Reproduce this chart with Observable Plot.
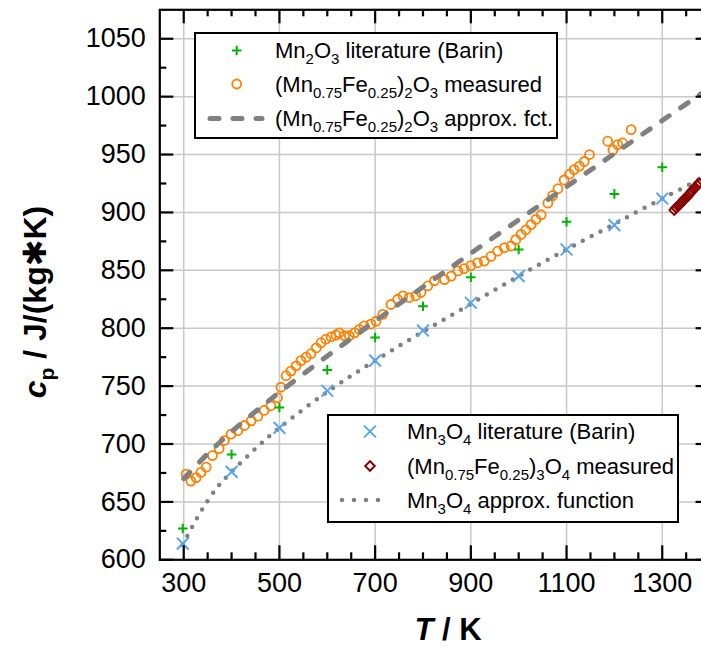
<!DOCTYPE html>
<html><head><meta charset="utf-8">
<script src="https://cdn.jsdelivr.net/npm/d3@7"></script>
<script src="https://cdn.jsdelivr.net/npm/@observablehq/plot@0.6"></script>
<style>
body{margin:0;background:#fff;}
#chart{width:701px;height:648px;overflow:hidden;position:relative;}
</style>
</head><body><div id="chart"></div>
<script>
// ---- data ----
const barinT = [298, 400, 500, 600, 700, 800, 900, 1000, 1100, 1200, 1300];
const mn2o3Barin = [627, 691, 731.5, 764, 792, 819, 844, 868, 892, 916, 939];
const mn3o4Barin = [614, 676, 714, 746, 772, 798, 822, 845, 868, 889, 912];

const measT = [305, 315, 326, 336, 347, 360, 374, 385, 399, 413, 427, 441, 455, 468, 482, 496, 503, 514, 524, 535, 545, 556, 566, 577, 587, 597, 608, 618, 625, 636, 646, 657, 667, 677, 691, 702, 716, 733, 747, 758, 771, 785, 796, 810, 824, 845, 859, 873, 886, 900, 914, 928, 942, 956, 970, 984, 994, 1005, 1015, 1026, 1036, 1047, 1061, 1071, 1082, 1095, 1106, 1116, 1127, 1137, 1148, 1186, 1197, 1207, 1217, 1235];
const measCp = [674, 668, 671, 675.5, 680, 690, 696, 703, 708.5, 711.5, 716, 720, 724, 729, 733, 740, 749, 759, 763, 767.5, 772, 775, 778, 783, 787.5, 790.5, 792.5, 794, 796, 793.5, 793.5, 796, 799, 802, 803.5, 806, 812, 820.5, 825, 828, 826.5, 828, 831, 836.5, 841, 842, 845, 849.5, 851.5, 854, 856.5, 858, 862, 866.5, 869.5, 871, 876.5, 881, 885, 889.5, 894, 898, 908, 914.5, 920.5, 928, 933, 937, 940, 944, 950, 961.5, 954, 958.5, 960, 971.5];

const spinelT = [1325, 1329, 1333, 1337, 1341, 1345, 1349, 1353, 1357, 1361, 1365, 1369, 1373, 1377];
const spinelCp = [902, 904, 905.5, 907, 909, 911, 912.5, 914, 916, 918, 920, 921.5, 923.5, 925.5];

const approx2T = [300, 350, 400, 450, 500, 600, 700, 800, 900, 1000, 1100, 1200, 1300, 1400];
const approx2Cp = [670, 691.6, 710.6, 728.1, 744.6, 776, 806.1, 835.6, 864.7, 893.6, 922.3, 950.8, 979.4, 1007.8];

const approx3T = [298, 325, 350, 375, 400, 450, 500, 600, 700, 800, 900, 1000, 1100, 1200, 1300, 1400];
const approx3Cp = [613, 634, 651, 665, 676, 696, 714, 745, 772, 797, 821, 845, 868, 890, 912, 933];

const xMajor = [300, 500, 700, 900, 1100, 1300];
const xMinor = [350, 400, 450, 550, 600, 650, 750, 800, 850, 950, 1000, 1050, 1150, 1200, 1250, 1350];
const yMajor = [600, 650, 700, 750, 800, 850, 900, 950, 1000, 1050];
const yMinor = [625, 675, 725, 775, 825, 875, 925, 975, 1025];

const cOrange = "#ff8000", cGreen = "#00b400", cBlue = "#55a5f0", cRed = "#8b0000", cGray = "#808080";

const zip = (xs, ys) => xs.map((x, i) => ({x, y: ys[i]}));

const ML = 159.3, MT = 9.3, MB = 88.7, MR = -8.6, W = 701, H = 648;
const FW = W - ML - MR, FH = H - MT - MB;
const majL = 14, minL = 7;

const sym = {
  plus: {r: 3.2, sw: 2},
  times: {r: 5.4, sw: 2},
  circle: {r: 4.5, sw: 1.8},
  diamond2: {r: 4.3, sw: 2}
};

const tickStyle = {stroke: "black", strokeWidth: 2.2};

const plot = Plot.plot({
  width: W, height: H,
  marginLeft: ML, marginRight: MR, marginTop: MT, marginBottom: MB,
  style: {fontFamily: "'Liberation Sans', Arial, sans-serif", fontSize: "27px", background: "white", color: "black"},
  x: {domain: [250, 1400]},
  y: {domain: [600, 1075]},
  marks: [
    Plot.gridX(xMajor, {stroke: "#c8c8c8", strokeOpacity: 1, strokeWidth: 1.5}),
    Plot.gridY(yMajor, {stroke: "#c8c8c8", strokeOpacity: 1, strokeWidth: 1.5}),
    Plot.dot(zip(measT, measCp), {x: "x", y: "y", symbol: "circle", r: sym.circle.r, stroke: cOrange, strokeWidth: sym.circle.sw, fill: "none"}),
    Plot.line(zip(approx2T, approx2Cp), {x: "x", y: "y", curve: "catmull-rom", stroke: cGray, strokeWidth: 5, strokeDasharray: "9,14", strokeLinecap: "round"}),
    Plot.line(zip(approx3T, approx3Cp), {x: "x", y: "y", curve: "catmull-rom", stroke: cGray, strokeWidth: 4.5, strokeDasharray: "0,10", strokeLinecap: "round"}),
    Plot.dot(zip(barinT, mn2o3Barin), {x: "x", y: "y", symbol: "plus", r: sym.plus.r, stroke: cGreen, strokeWidth: sym.plus.sw}),
    Plot.dot(zip(barinT, mn3o4Barin), {x: "x", y: "y", symbol: "times", r: sym.times.r, stroke: cBlue, strokeWidth: sym.times.sw}),
    Plot.dot(zip(spinelT, spinelCp), {x: "x", y: "y", symbol: "diamond2", r: sym.diamond2.r, stroke: cRed, strokeWidth: sym.diamond2.sw, fill: "none"}),
    Plot.axisX({ticks: xMajor, tickSize: 0, tickPadding: 13, label: null, tickFormat: d => String(d)}),
    Plot.axisY({ticks: yMajor, tickSize: 0, tickPadding: 14, label: null, tickFormat: d => String(d)}),
    // inward ticks: bottom, top, left, right
    Plot.tickX(xMajor, {x: d => d, insetTop: FH - majL, ...tickStyle}),
    Plot.tickX(xMinor, {x: d => d, insetTop: FH - minL, ...tickStyle}),
    Plot.tickX(xMajor, {x: d => d, insetBottom: FH - majL, ...tickStyle}),
    Plot.tickX(xMinor, {x: d => d, insetBottom: FH - minL, ...tickStyle}),
    Plot.tickY(yMajor, {y: d => d, insetRight: FW - majL, ...tickStyle}),
    Plot.tickY(yMinor, {y: d => d, insetRight: FW - minL, ...tickStyle}),
    Plot.tickY(yMajor, {y: d => d, insetLeft: FW - majL, ...tickStyle}),
    Plot.tickY(yMinor, {y: d => d, insetLeft: FW - minL, ...tickStyle}),
    Plot.frame({stroke: "black", strokeWidth: 2.2})
  ]
});

const svg = d3.select(plot);
const FONT = "'Liberation Sans', Arial, sans-serif";

function richText(g, x, y, parts, size) {
  const t = g.append("text").attr("x", x).attr("y", y).attr("text-anchor", "start")
    .attr("font-family", FONT).attr("font-size", size).attr("fill", "black");
  let shifted = 0;
  for (const [s, kind] of parts) {
    const ts = t.append("tspan").text(s);
    if (kind === "sub") {
      ts.attr("font-size", Math.round(size * 0.66)).attr("dy", 6 - shifted);
      shifted = 6;
    } else {
      if (shifted) ts.attr("dy", -shifted);
      shifted = 0;
    }
  }
  return t;
}

function symbolPath(type, r) {
  const map = {plus: d3.symbolPlus, times: d3.symbolTimes, circle: d3.symbolCircle, diamond2: d3.symbolDiamond2};
  return d3.symbol(map[type], Math.PI * r * r)();
}

function legend(box, rows) {
  const g = svg.append("g");
  g.append("rect").attr("x", box.x).attr("y", box.y).attr("width", box.w).attr("height", box.h)
    .attr("fill", "white").attr("stroke", "black").attr("stroke-width", 2);
  for (const row of rows) {
    if (row.symbol) {
      g.append("path").attr("d", symbolPath(row.symbol, sym[row.symbol].r))
        .attr("transform", `translate(${box.sx},${row.cy})`)
        .attr("fill", "none").attr("stroke", row.color).attr("stroke-width", sym[row.symbol].sw);
    } else {
      g.append("line").attr("x1", row.x1).attr("x2", row.x2).attr("y1", row.cy).attr("y2", row.cy)
        .attr("stroke", cGray).attr("stroke-width", row.sw).attr("stroke-dasharray", row.dash)
        .attr("stroke-linecap", "round");
    }
    richText(g, box.tx, row.cy + 7.5, row.parts, 22);
  }
}

legend({x: 195, y: 33, w: 362, h: 105, sx: 236.7, tx: 275}, [
  {symbol: "plus", color: cGreen, cy: 50.5, parts: [["Mn"], ["2", "sub"], ["O"], ["3", "sub"], [" literature (Barin)"]]},
  {symbol: "circle", color: cOrange, cy: 84, parts: [["(Mn"], ["0.75", "sub"], ["Fe"], ["0.25", "sub"], [")"], ["2", "sub"], ["O"], ["3", "sub"], [" measured"]]},
  {cy: 118.5, x1: 210, x2: 262, sw: 5, dash: "9,14", parts: [["(Mn"], ["0.75", "sub"], ["Fe"], ["0.25", "sub"], [")"], ["2", "sub"], ["O"], ["3", "sub"], [" approx. fct."]]}
]);

legend({x: 328, y: 415, w: 350, h: 107, sx: 370, tx: 407}, [
  {symbol: "times", color: cBlue, cy: 431.5, parts: [["Mn"], ["3", "sub"], ["O"], ["4", "sub"], [" literature (Barin)"]]},
  {symbol: "diamond2", color: cRed, cy: 466, parts: [["(Mn"], ["0.75", "sub"], ["Fe"], ["0.25", "sub"], [")"], ["3", "sub"], ["O"], ["4", "sub"], [" measured"]]},
  {cy: 500, x1: 342, x2: 390, sw: 4.5, dash: "0,12", parts: [["Mn"], ["3", "sub"], ["O"], ["4", "sub"], [" approx. function"]]}
]);

// axis titles
const xt = svg.append("text").attr("x", 448).attr("y", 640).attr("text-anchor", "middle")
  .attr("font-family", FONT).attr("font-size", 31).attr("font-weight", "bold");
xt.append("tspan").attr("font-style", "italic").text("T");
xt.append("tspan").text(" / K");

const yt = svg.append("text").attr("transform", "translate(46,302) rotate(-90)").attr("text-anchor", "middle")
  .attr("font-family", FONT).attr("font-size", 32).attr("font-weight", "bold");
yt.append("tspan").attr("font-style", "italic").text("c");
yt.append("tspan").attr("font-size", 21).attr("dy", 8).text("p");
yt.append("tspan").attr("dy", -8).text(" / J/(kg");
yt.append("tspan").attr("font-family", "'DejaVu Sans', sans-serif").text("\u2731");
yt.append("tspan").text("K)");

document.getElementById("chart").appendChild(plot);
</script>
</body></html>
